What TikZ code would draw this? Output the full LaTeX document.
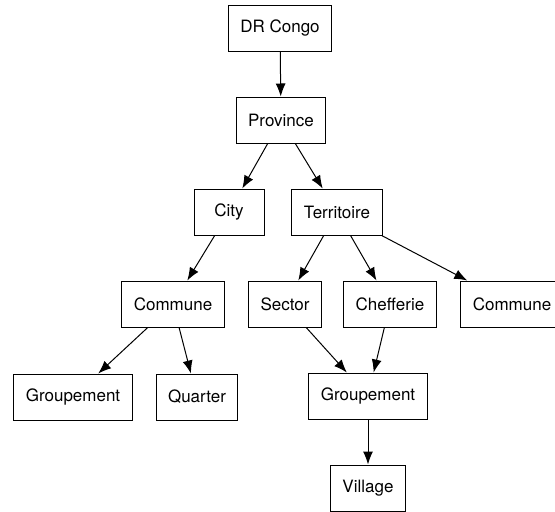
\documentclass[tikz,border=0pt]{standalone}
\usepackage{fontspec}
\setmainfont{TeX Gyre Heros}
\usetikzlibrary{arrows.meta}
\begin{document}
\begin{tikzpicture}[>={Latex[length=13pt, width=10pt]}, x=1pt, y=-1pt,
    box/.style={draw, line width=1pt, minimum width=70pt, minimum height=46pt,
        inner xsep=12pt, font=\fontsize{17}{20}\selectfont},
    edge/.style={->, line width=1pt}]
\useasboundingbox (0,0) rectangle (555,512);
% Ebene 1 und 2
\node[box] (drc) at (280, 28) {DR Congo};
\node[box] (prov) at (281, 120) {Province};
% Ebene 3
\node[box] (city) at (229, 212) {City};
\node[box] (terr) at (337, 212) {Territoire};
% Ebene 4
\node[box] (comL) at (173, 304) {Commune};
\node[box] (sect) at (285, 304) {Sector};
\node[box] (chef) at (390, 304) {Chefferie};
\node[box] (comR) at (512, 304) {Commune};
% Ebene 5 und 6
\node[box] (grpL) at (73, 397) {Groupement};
\node[box] (quar) at (197, 397) {Quarter};
\node[box] (grpM) at (368, 396) {Groupement};
\node[box] (vill) at (368, 488) {Village};
% Pfeile
\draw[edge] (drc) -- (prov);
\draw[edge] (prov) -- (city);
\draw[edge] (prov) -- (terr);
\draw[edge] (city) -- (comL);
\draw[edge] (terr) -- (sect);
\draw[edge] (terr) -- (chef);
\draw[edge] (terr) -- (comR);
\draw[edge] (comL) -- (grpL);
\draw[edge] (comL) -- (quar);
\draw[edge] (sect) -- (grpM);
\draw[edge] (chef) -- (grpM);
\draw[edge] (grpM) -- (vill);
\end{tikzpicture}
\end{document}
